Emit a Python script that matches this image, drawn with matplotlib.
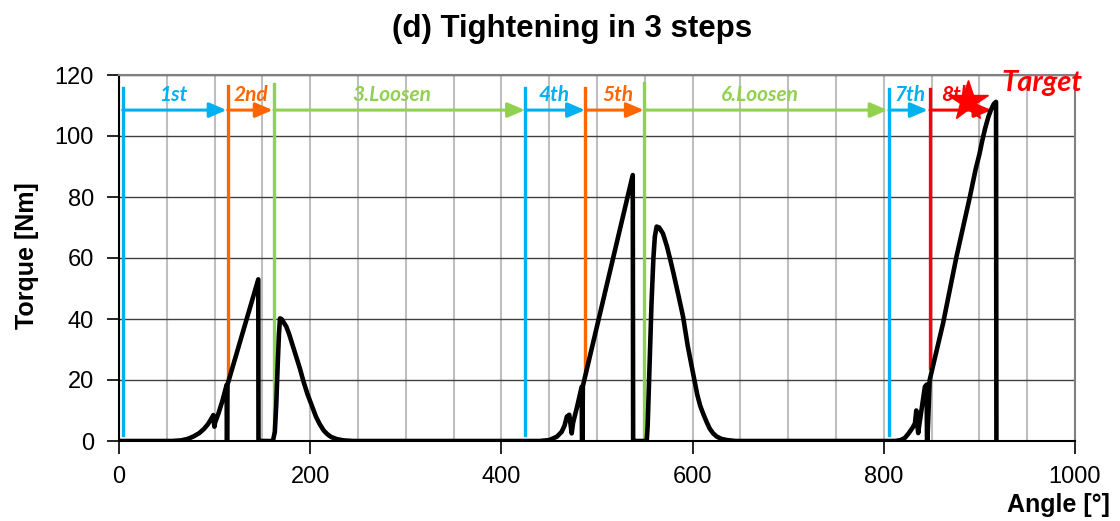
import matplotlib
matplotlib.use("Agg")
import matplotlib.pyplot as plt
import numpy as np

plt.rcParams['font.family'] = ['Liberation Sans', 'DejaVu Sans']

# torque curve (angle in deg, torque in Nm)
angle = [0, 55, 65, 72, 78, 84, 89, 93, 96, 98.7, 99.3, 99.8, 100.5, 104, 108, 112.6, 112.8,
         113.2, 113.5, 145.7, 145.9, 146.5, 161, 163, 164.5, 166, 167.3, 168.4, 170, 172,
         175, 178, 181, 185, 189, 193, 197, 200, 203, 206, 210, 214, 218, 222, 228, 235, 245,
         440, 450, 458, 463, 466, 468.5, 471, 472.5, 473.5, 475, 479, 484, 484.3, 484.8, 485.2,
         537.4, 537.8, 538.6, 552, 553, 555, 557, 559, 560.5, 562.4, 565, 569, 573, 577,
         580, 585, 590, 595, 600.6, 605, 608, 611, 615, 618, 621.5, 625, 630, 636, 645,
         800, 812, 817.6, 822, 826, 830, 832.6, 834, 835.2, 836, 837, 843, 844.8, 845.2, 845.6,
         848, 862, 876, 890, 896, 900, 903, 906, 909.4, 912, 915, 917.4, 917.8]
torque = [0, 0, 0.2, 0.7, 1.5, 2.6, 4, 5.5, 7, 8.5, 6, 4.7, 6, 9, 13, 18.4, 0,
          0, 18.5, 53, 0, 0, 0, 3, 12, 25, 35, 40.2, 40, 39,
          37.5, 35, 32, 28, 24, 19.5, 15.5, 13, 10.5, 8, 5.5, 3.5, 2.2, 1.3, 0.6, 0.2, 0,
          0, 0.3, 1.4, 3, 5, 8, 8.6, 5, 2.5, 6, 11, 17.8, 0, 0, 18,
          87.2, 0, 0, 0, 5, 25, 45, 60, 67, 70.3, 70, 68, 64, 59,
          55, 48, 40.8, 31, 22, 15, 11.5, 9, 6, 4, 2.5, 1.5, 0.7, 0.3, 0,
          0, 0, 0.3, 1, 2.5, 4.3, 5.8, 10, 5, 2.6, 5, 17.8, 18.5, 0, 0,
          20, 38.6, 60.4, 80, 89, 94, 98.5, 102.5, 106.3, 108.5, 110.5, 111.2, 0]

# step markers: vertical lines (x, bottom, top, colour)
step_x = [3.9, 113.7, 162, 424.7, 487.8, 549.5, 805.4, 848.3]
step_bottom = [2, 21, 3, 2, 22, 1.4, 2, 23.8]
step_top = [115.6, 116.4, 117, 115.6, 115.6, 117.5, 115.3, 115.3]
step_colors = ['#00B0F0', '#FF6600', '#92D050', '#00B0F0', '#FF6600', '#92D050', '#00B0F0', '#FF0000']
step_labels = ['1st', '2nd', '3.Loosen', '4th', '5th', '6.Loosen', '7th', '8th']
label_x = [56.5, 138, 285, 455, 522, 670.5, 827, 876]
arrow_end = [112.6, 160.8, 424.7, 487.5, 549, 804, 846, 912.7]
arrow_y = 108.5

fig = plt.figure(figsize=(11.2, 5.21), dpi=100)
ax = fig.add_axes([119 / 1120, 80 / 521, 956 / 1120, 366 / 521])

ax.set_xlim(0, 1000)
ax.set_ylim(0, 120)
ax.set_xticks(np.arange(0, 1001, 200))
ax.set_xticks(np.arange(0, 1001, 50), minor=True)
ax.set_yticks(np.arange(0, 121, 20))
ax.grid(which='both', axis='x', color='#BFBFBF', lw=1.5, zorder=0)
ax.grid(which='major', axis='y', color='#404040', lw=1, zorder=0)
ax.set_axisbelow(True)
ax.tick_params(which='minor', length=0)
ax.tick_params(which='major', length=9, width=1.2, labelsize=17, pad=9, direction='out')
for s in ['top', 'right']:
    ax.spines[s].set_color('#808080')
    ax.spines[s].set_linewidth(1.5)
for s in ['left', 'bottom']:
    ax.spines[s].set_color('black')
    ax.spines[s].set_linewidth(1.5)

for i in range(len(step_x)):
    ax.plot([step_x[i], step_x[i]], [step_bottom[i], step_top[i]], color=step_colors[i], lw=2.4, zorder=3)
    ax.annotate('', xy=(arrow_end[i], arrow_y), xytext=(step_x[i], arrow_y),
                arrowprops=dict(arrowstyle='-|>,head_length=0.7,head_width=0.3', color=step_colors[i],
                                lw=2.2, shrinkA=0, shrinkB=0, mutation_scale=15), zorder=3)
    ax.text(label_x[i], 113.3, step_labels[i], color=step_colors[i], fontsize=15, family='Lato',
            fontweight='bold', fontstyle='italic', ha='center', va='center', zorder=4)

ax.plot(angle, torque, color='black', lw=3.3, solid_joinstyle='round', solid_capstyle='round', zorder=5)
ax.plot(888, 111.5, marker='*', ms=30, color='#FF0000', zorder=6, clip_on=False)
ax.text(965, 117.5, 'Target', color='#FF0000', fontsize=21, family='Lato', fontweight='bold',
        fontstyle='italic', ha='center', va='center', clip_on=False, zorder=6)

fig.text(0.511, 0.944, '(d) Tightening in 3 steps', fontsize=22.5, fontweight='bold', ha='center', va='center')
fig.text(27 / 1120, 0.51, 'Torque [Nm]', fontsize=18, fontweight='bold', rotation=90, ha='center', va='center')
fig.text(0.991, 0.031, 'Angle [°]', fontsize=18, fontweight='bold', ha='right', va='center')

fig.savefig('out.png', dpi=100)
